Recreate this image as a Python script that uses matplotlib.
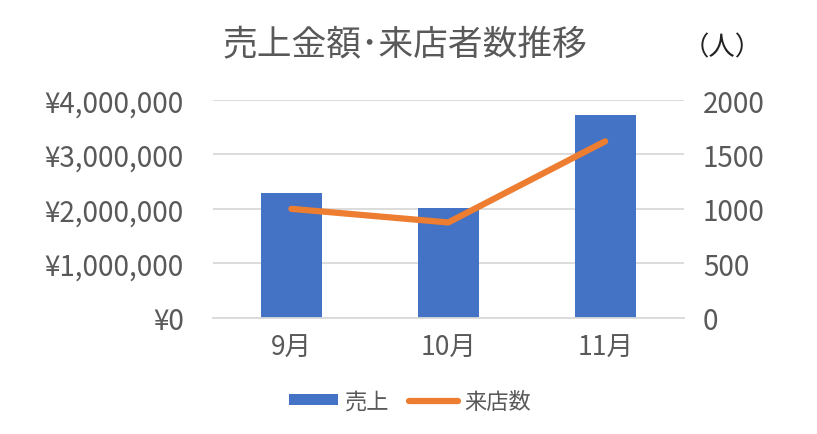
import matplotlib
matplotlib.use("Agg")
import matplotlib.pyplot as plt
from matplotlib.ticker import FuncFormatter

plt.rcParams['font.family'] = ['Noto Sans CJK JP', 'DejaVu Sans']

# データ
months = ['9月', '10月', '11月']
sales = [2300000, 2010000, 3720000]
visitors = [1000, 875, 1620]

TEXT = '#595959'
BLUE = '#4472C4'
ORANGE = '#ED7D31'
GRID = '#D9D9D9'

fig = plt.figure(figsize=(8.17, 4.35), dpi=100)
ax = fig.add_axes([0.2607, 0.2674, 0.5759, 0.5004])
ax2 = ax.twinx()

x = range(len(months))
b = ax.bar(x, sales, width=0.39, color=BLUE, label='売上', zorder=2)
l, = ax2.plot(x, visitors, color=ORANGE, linewidth=4.5, solid_capstyle='round',
              label='来店数', zorder=3)

ax.set_xlim(-0.5, 2.5)
ax.set_ylim(0, 4000000)
ax2.set_ylim(0, 2000)
ax.set_yticks(range(0, 4000001, 1000000))
ax2.set_yticks(range(0, 2001, 500))
ax.yaxis.set_major_formatter(FuncFormatter(lambda v, p: f'¥{int(v):,}'))
ax.set_xticks(list(x))
ax.set_xticklabels(months)

ax.grid(axis='y', color=GRID, linewidth=1.3, zorder=0)
ax.set_axisbelow(True)
for a in (ax, ax2):
    for s in a.spines.values():
        s.set_visible(False)
    a.tick_params(length=0, labelsize=20, colors=TEXT)
ax.tick_params(axis='x', labelsize=19, pad=12)
ax.spines['bottom'].set_visible(True)
ax.spines['bottom'].set_color(GRID)
ax.spines['bottom'].set_linewidth(1.3)
ax.tick_params(axis='y', pad=21)
ax2.tick_params(axis='y', pad=14)

fig.text(0.496, 0.895, '売上金額･来店者数推移', ha='center', va='center',
         fontsize=25, color=TEXT)
fig.text(0.884, 0.89, '（人）', ha='center', va='center', fontsize=19, color='#222222')

ax.legend([b, l], ['売上', '来店数'], loc='center', bbox_to_anchor=(0.419, -0.383),
          ncol=2, frameon=False, fontsize=16, labelcolor=TEXT,
          handlelength=2.2, handleheight=0.4, handletextpad=0.3, columnspacing=0.9)

fig.savefig('out.png', dpi=100)
